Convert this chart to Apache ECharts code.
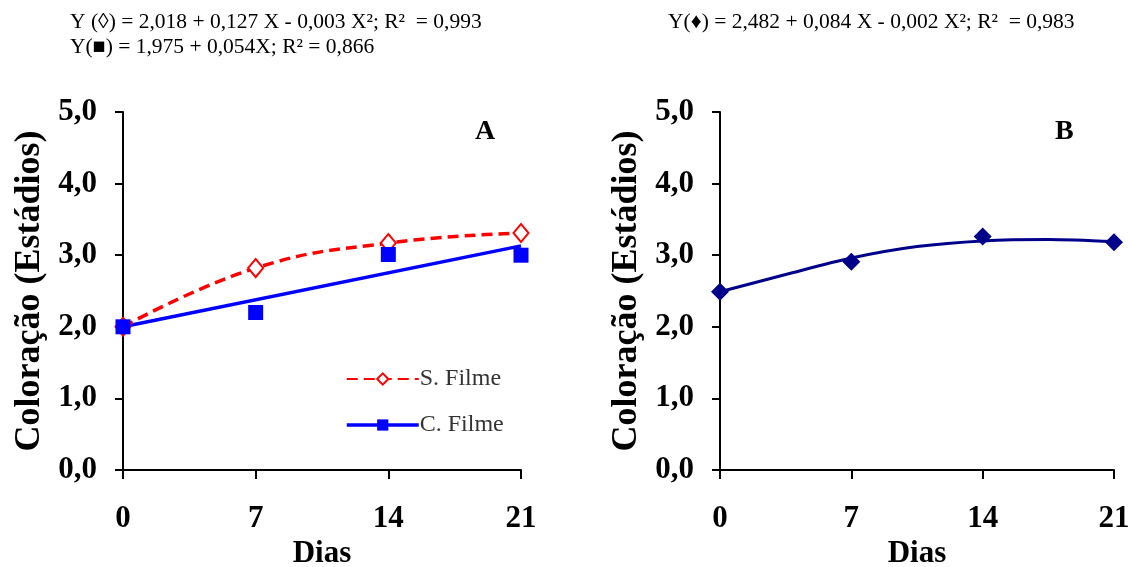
<!DOCTYPE html>
<html>
<head>
<meta charset="utf-8">
<script src="https://cdn.jsdelivr.net/npm/echarts@6/dist/echarts.min.js"></script>
<style>
  html, body { margin: 0; padding: 0; background: #fff; }
  #chart { width: 1132px; height: 567px; }
</style>
</head>
<body>
<div id="chart"></div>
<script>
// Days of storage
const dias = [0, 7, 14, 21];
const xTicks = [0, 7, 14, 21];

// Panel A: colour stage without film (open diamonds) and with film (squares)
const semFilme = [2.0, 2.82, 3.17, 3.31];
const comFilme = [2.0, 2.20, 3.01, 3.0];
// Straight regression line for "C. Filme", read at first and last day
const ajusteComFilme = [2.0, 3.13];

// Panel B: observed stages
const painelB = [2.49, 2.91, 3.26, 3.18];
// Panel B fitted curve, read every 3.5 days
const diasAjusteB = [0, 3.5, 7, 10.5, 14, 17.5, 21];
const ajusteB = [2.49, 2.73, 2.96, 3.12, 3.20, 3.22, 3.19];

const eqA1 = 'Y (\u25CA) = 2,018 + 0,127 X - 0,003 X\u00B2; R\u00B2  = 0,993';
const eqA2 = 'Y(\u25A0) = 1,975 + 0,054X; R\u00B2 = 0,866';
const eqB = 'Y(\u2666) = 2,482 + 0,084 X - 0,002 X\u00B2; R\u00B2  = 0,983';

const serif = 'Liberation Serif';
const pairs = (ys, xs) => ys.map((y, i) => [xs[i], y]);

function xAxis(gridIndex) {
  return {
    type: 'value', gridIndex, min: xTicks[0], max: xTicks[xTicks.length - 1], interval: 7,
    name: 'Dias', nameLocation: 'middle', nameGap: 67,
    nameTextStyle: { fontFamily: serif, fontWeight: 'bold', fontSize: 31, color: '#000' },
    axisLine: { lineStyle: { color: '#000', width: 2 } },
    axisTick: { show: true, inside: false, length: 9, lineStyle: { color: '#000', width: 2 } },
    axisLabel: { fontFamily: serif, fontWeight: 'bold', fontSize: 31, color: '#000', margin: 33 },
    splitLine: { show: false }
  };
}
function yAxis(gridIndex) {
  return {
    type: 'value', gridIndex, min: 0, max: 5, interval: 1,
    name: 'Coloração (Estádios)', nameLocation: 'middle', nameGap: 75,
    nameTextStyle: { fontFamily: serif, fontWeight: 'bold', fontSize: 36, color: '#000' },
    axisLine: { show: true, lineStyle: { color: '#000', width: 2 } },
    axisTick: { show: true, inside: false, length: 8, lineStyle: { color: '#000', width: 2 } },
    axisLabel: {
      fontFamily: serif, fontWeight: 'bold', fontSize: 31, color: '#000', margin: 26,
      padding: [3, 0, 0, 0],
      formatter: v => v.toFixed(1).replace('.', ',')
    },
    splitLine: { show: false }
  };
}

const chart = echarts.init(document.getElementById('chart'), null, { renderer: 'canvas' });
chart.setOption({
  backgroundColor: '#fff',
  animation: false,
  textStyle: { fontFamily: serif },
  grid: [
    { left: 123, top: 112, width: 398, height: 358, outerBoundsMode: 'none', containLabel: false },
    { left: 720, top: 112, width: 394, height: 358, outerBoundsMode: 'none', containLabel: false }
  ],
  xAxis: [xAxis(0), xAxis(1)],
  yAxis: [yAxis(0), yAxis(1)],
  legend: {
    left: 340, top: 362, orient: 'vertical', itemGap: 22,
    itemWidth: 72, itemHeight: 14,
    textStyle: { fontFamily: serif, fontSize: 24, color: '#333', padding: [0, 0, 0, -4] },
    data: [
      { name: 'S. Filme' },
      { name: 'C. Filme', lineStyle: { color: '#0000ff', width: 3.5, type: 'solid', opacity: 1 } }
    ]
  },
  graphic: [
    { type: 'text', left: 70, top: 11, style: { text: eqA1, font: '21.5px ' + serif, fill: '#000' } },
    { type: 'text', left: 70, top: 36, style: { text: eqA2, font: '21.5px ' + serif, fill: '#000' } },
    { type: 'text', left: 668, top: 11, style: { text: eqB, font: '21.5px ' + serif, fill: '#000' } },
    { type: 'text', left: 475, top: 118, style: { text: 'A', font: 'bold 28px ' + serif, fill: '#000' } },
    { type: 'text', left: 1055, top: 118, style: { text: 'B', font: 'bold 28px ' + serif, fill: '#000' } }
  ],
  series: [
    {
      name: 'C. Filme ajuste', type: 'line', xAxisIndex: 0, yAxisIndex: 0,
      data: [[dias[0], ajusteComFilme[0]], [dias[3], ajusteComFilme[1]]],
      showSymbol: false, lineStyle: { color: '#0000ff', width: 3.5 }, z: 2
    },
    {
      name: 'S. Filme', type: 'line', xAxisIndex: 0, yAxisIndex: 0,
      data: pairs(semFilme, dias), smooth: 0.45,
      symbol: 'diamond', symbolSize: [15, 18],
      itemStyle: { color: '#fff', borderColor: '#ff0000', borderWidth: 2 },
      lineStyle: { color: '#ff0000', width: 3.5, type: [11, 6] }, z: 3
    },
    {
      name: 'C. Filme', type: 'line', xAxisIndex: 0, yAxisIndex: 0,
      data: pairs(comFilme, dias),
      symbol: 'rect', symbolSize: 15,
      itemStyle: { color: '#0000ff' },
      lineStyle: { width: 0, opacity: 0 }, z: 4
    },
    {
      name: 'B ajuste', type: 'line', xAxisIndex: 1, yAxisIndex: 1,
      data: pairs(ajusteB, diasAjusteB), smooth: 0.3,
      showSymbol: false, lineStyle: { color: '#00008b', width: 3 }, z: 2
    },
    {
      name: 'B', type: 'line', xAxisIndex: 1, yAxisIndex: 1,
      data: pairs(painelB, dias),
      symbol: 'diamond', symbolSize: [18, 18],
      itemStyle: { color: '#00008b' },
      lineStyle: { width: 0, opacity: 0 }, z: 3
    }
  ]
});
</script>
</body>
</html>
